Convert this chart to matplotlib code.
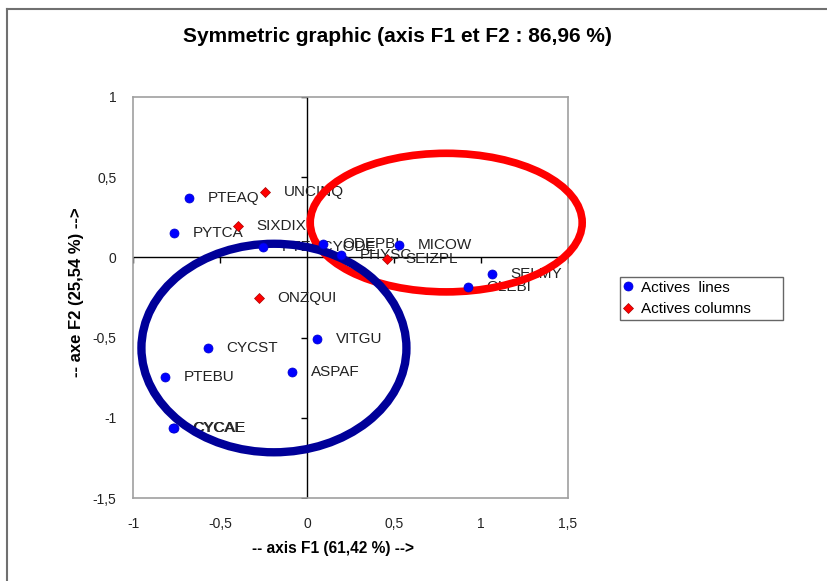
import matplotlib
matplotlib.use("Agg")
import matplotlib.pyplot as plt
from matplotlib.patches import Ellipse
from matplotlib.lines import Line2D
from matplotlib.markers import TICKLEFT, TICKDOWN

plt.rcParams["font.family"] = ["Liberation Sans", "DejaVu Sans"]

# active rows (blue dots)
row_names = ["PTEAQ", "PYTCA", "PTERCYODE", "ODEPBI", "PHYSC", "MICOW", "SELMY", "OLEBI",
             "VITGU", "CYCST", "PTEBU", "ASPAF", "CYCAE", "CYCAL"]
row_x = [-0.678, -0.764, -0.253, 0.092, 0.195, 0.529, 1.063, 0.925,
         0.057, -0.569, -0.816, -0.086, -0.764, -0.768]
row_y = [0.373, 0.155, 0.062, 0.081, 0.012, 0.075, -0.106, -0.186,
         -0.510, -0.565, -0.745, -0.714, -1.062, -1.064]

# active columns (red diamonds)
col_names = ["UNCINQ", "SIXDIX", "SEIZPL", "ONZQUI"]
col_x = [-0.241, -0.397, 0.460, -0.276]
col_y = [0.410, 0.193, -0.012, -0.255]

x_ticks = [-1, -0.5, 0, 0.5, 1, 1.5]
y_ticks = [-1.5, -1, -0.5, 0, 0.5, 1]


def fmt(v):
    return ("%g" % v).replace(".", ",")


W, H = 827, 581
fig = plt.figure(figsize=(W / 100, H / 100), dpi=100)
ax = fig.add_axes([133 / W, 1 - 498 / H, 435 / W, 401 / H])

ax.set_xlim(-1, 1.5)
ax.set_ylim(-1.5, 1)
ax.set_xticks(x_ticks)
ax.set_xticklabels([fmt(v) for v in x_ticks])
ax.set_yticks(y_ticks)
ax.set_yticklabels([fmt(v) for v in y_ticks])
ax.tick_params(length=0, labelsize=10, colors="#222222")
ax.tick_params(axis="x", pad=14)
ax.tick_params(axis="y", pad=12)
for sp in ax.spines.values():
    sp.set_color("#a0a0a0")
    sp.set_linewidth(1.2)

# axes through origin with small ticks
ax.axhline(0, color="black", linewidth=1, zorder=1)
ax.axvline(0, color="black", linewidth=1, zorder=1)
ax.plot([v for v in x_ticks if v != 0], [0] * 5, linestyle="none", marker=TICKDOWN,
        markersize=4, color="black", zorder=1)
ax.plot([0] * 5, [v for v in y_ticks if v != 0], linestyle="none", marker=TICKLEFT,
        markersize=4, color="black", zorder=1)

# labels
for name, x, y in zip(row_names, row_x, row_y):
    ax.annotate(name, (x, y), xytext=(13.5, 0), textcoords="offset points",
                va="center", ha="left", fontsize=11, color="#222222", zorder=2)
for name, x, y in zip(col_names, col_x, col_y):
    ax.annotate(name, (x, y), xytext=(13.5, 0), textcoords="offset points",
                va="center", ha="left", fontsize=11, color="#222222", zorder=2)

# highlighted groups
ax.add_patch(Ellipse((0.80, 0.217), 1.563, 0.864, fill=False, edgecolor="#ff0000",
                     linewidth=5.5, zorder=3, clip_on=False))
ax.add_patch(Ellipse((-0.19, -0.565), 1.523, 1.30, fill=False, edgecolor="#000099",
                     linewidth=6, zorder=3, clip_on=False))

ax.plot(row_x, row_y, linestyle="none", marker="o", markersize=6.5, color="#0000ff",
        markeredgecolor="#0000cc", markeredgewidth=0.5, label="Actives  lines", zorder=4)
ax.plot(col_x, col_y, linestyle="none", marker="D", markersize=5.5, color="#ff0000",
        markeredgecolor="#aa0000", markeredgewidth=0.5, label="Actives columns", zorder=4)

fig.suptitle("Symmetric graphic (axis F1 et F2 : 86,96 %)", x=0.481, y=1 - 37 / H,
             va="center", fontsize=15, fontweight="bold")
ax.set_xlabel("-- axis F1 (61,42 %) -->", fontsize=11.2, fontweight="bold")
ax.xaxis.set_label_coords(0.46, -0.125)
ax.xaxis.label.set_va("center")
ax.set_ylabel("-- axe F2 (25,54 %) -->", fontsize=12, fontweight="bold")
ax.yaxis.set_label_coords(-0.129, 0.514)
ax.yaxis.label.set_va("center")

leg = fig.legend(loc="upper left", bbox_to_anchor=(620 / W, 1 - 323 / H, 163 / W, 46 / H),
                 mode="expand", fontsize=11, frameon=True, fancybox=False, borderaxespad=0,
                 handlelength=0.6, handletextpad=0.5, borderpad=0.25, labelspacing=0.5)
leg.get_frame().set_edgecolor("#404040")
leg.get_frame().set_linewidth(1)

# outer chart border (top and left visible)
fig.add_artist(Line2D([7 / W, 7 / W], [0, 1 - 9 / H], color="#707070", linewidth=1.5))
fig.add_artist(Line2D([7 / W, 1], [1 - 9 / H, 1 - 9 / H], color="#707070", linewidth=1.5))

fig.savefig("out.png", dpi=100)
